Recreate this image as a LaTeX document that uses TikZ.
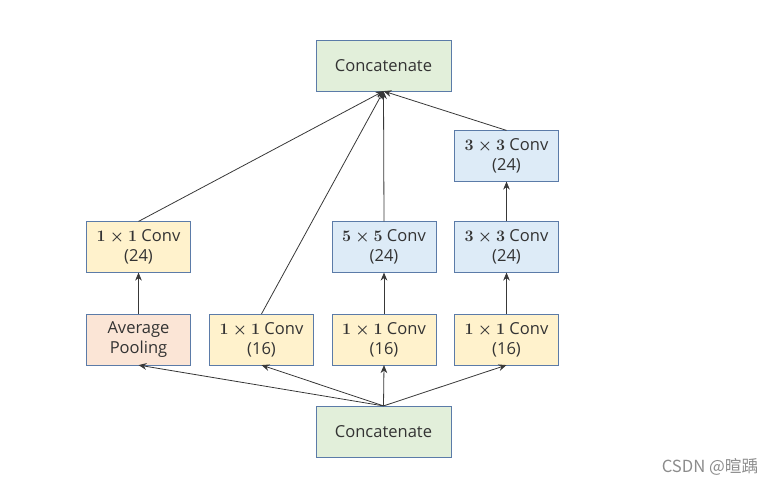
\documentclass[tikz,border=0pt]{standalone}
\usepackage{amsmath}
\usepackage{fontspec}
\setmainfont{Open Sans}
\newfontfamily\cjk{Noto Sans CJK SC}
\usetikzlibrary{arrows.meta}

\definecolor{boxline}{HTML}{5B7BA8}
\definecolor{greenfill}{HTML}{E2EFDA}
\definecolor{yellowfill}{HTML}{FFF2CC}
\definecolor{bluefill}{HTML}{DDEBF7}
\definecolor{pinkfill}{HTML}{FBE5D6}
\definecolor{arrowline}{HTML}{383838}

\begin{document}
\begin{tikzpicture}[x=0.75pt, y=-0.75pt]
    \tikzstyle{layer}=[
        draw = boxline,
        fill = white,
        minimum width = 78pt,
        minimum height = 38pt,
        align = center,
        font = \fontsize{12.4}{15}\selectfont,
        text = black!80,
        inner sep = 1pt
    ]
    \tikzstyle{concat box}=[layer, fill = greenfill, minimum width = 101pt]
    \tikzstyle{reduce box}=[layer, fill = yellowfill]
    \tikzstyle{conv box}=[layer, fill = bluefill]
    \tikzstyle{pool box}=[layer, fill = pinkfill]
    \tikzstyle{flow}=[-{Stealth[length=6pt, width=5pt]}, arrowline, semithick]

    \useasboundingbox (0, 0) rectangle (783, 487);

    \node[concat box] (out) at (383.5, 65.5)  {Concatenate};
    \node[concat box] (in)  at (383.5, 431.5) {Concatenate};

    \node[pool box]   (pool)  at (138.5, 339.5) {Average\\Pooling};
    \node[reduce box] (poolc) at (138.5, 247)   {$\boldsymbol{1\times1}$ Conv\\(24)};

    \node[reduce box] (b1)    at (261.5, 339.5) {$\boldsymbol{1\times1}$ Conv\\(16)};

    \node[reduce box] (b2a)   at (384, 339.5)   {$\boldsymbol{1\times1}$ Conv\\(16)};
    \node[conv box]   (b2b)   at (384, 247)     {$\boldsymbol{5\times5}$ Conv\\(24)};

    \node[reduce box] (b3a)   at (506.5, 339.5) {$\boldsymbol{1\times1}$ Conv\\(16)};
    \node[conv box]   (b3b)   at (506.5, 247)   {$\boldsymbol{3\times3}$ Conv\\(24)};
    \node[conv box]   (b3c)   at (506.5, 156)   {$\boldsymbol{3\times3}$ Conv\\(24)};

    % input to each branch
    \draw[flow] (in.north) -- (pool.south);
    \draw[flow] (in.north) -- (b1.south);
    \draw[flow] (in.north) -- (b2a.south);
    \draw[flow] (in.north) -- (b3a.south);

    % inside the branches
    \draw[flow] (pool) -- (poolc);
    \draw[flow] (b2a) -- (b2b);
    \draw[flow] (b3a) -- (b3b);
    \draw[flow] (b3b) -- (b3c);

    % branches to output
    \draw[flow] (poolc.north) -- (out.south);
    \draw[flow] (b1.north) -- (out.south);
    \draw[flow] (b2b.north) -- (out.south);
    \draw[flow] (b3c.north) -- (out.south);

    \node[text = black!45, font = \cjk\fontsize{12.5}{15}\selectfont] (mark) at (710, 467) {CSDN @暄踽};

\end{tikzpicture}
\end{document}
